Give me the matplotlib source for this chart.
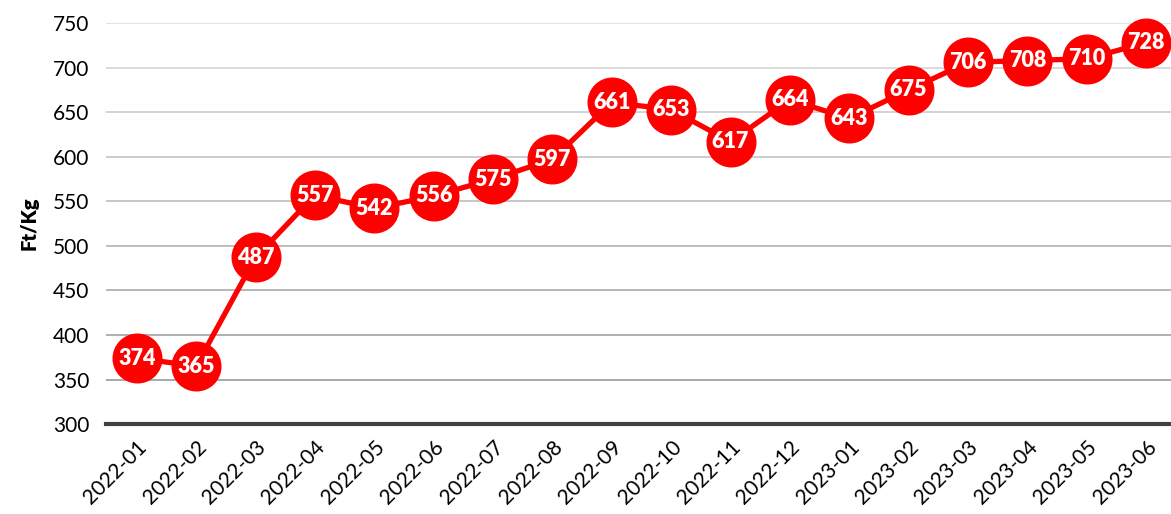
import numpy as np
import matplotlib.pyplot as plt

months = ['2022-01', '2022-02', '2022-03', '2022-04', '2022-05', '2022-06',
          '2022-07', '2022-08', '2022-09', '2022-10', '2022-11', '2022-12',
          '2023-01', '2023-02', '2023-03', '2023-04', '2023-05', '2023-06']
prices = [374, 365, 487, 557, 542, 556, 575, 597, 661, 653, 617, 664,
          643, 675, 706, 708, 710, 728]

plt.rcParams['font.family'] = ['Lato', 'DejaVu Sans']

fig = plt.figure(figsize=(11.71, 5.14), dpi=100)
ax = fig.add_axes([0.0905, 0.175, 0.9095, 0.78])

x = np.arange(len(months))

# gridlines, a bit darker toward the bottom
yticks = np.arange(300, 751, 50)
for yv in yticks[1:]:
    shade = 0.63 + 0.25 * (yv - 350) / 400.0
    ax.axhline(yv, color=(shade, shade, shade), linewidth=1.3, zorder=0)
ax.axhline(300, color='#404040', linewidth=3, zorder=1, clip_on=False)

ax.plot(x, prices, color='#ff0000', linewidth=3.8, marker='o',
        markersize=35, markerfacecolor='#ff0000', markeredgecolor='#ff0000',
        zorder=3, clip_on=False)

for xi, v in zip(x, prices):
    ax.text(xi, v, '%d' % v, ha='center', va='center', color='white',
            fontsize=15.5, fontweight='heavy', zorder=4)

ax.set_xlim(-0.52, len(months) - 0.58)
ax.set_ylim(300, 750)
ax.set_yticks(yticks)
ax.set_xticks(x)
ax.set_xticklabels(months, rotation=45, ha='right', rotation_mode='anchor')
ax.tick_params(axis='both', length=0, labelsize=15)
ax.tick_params(axis='y', pad=12)
ax.tick_params(axis='x', pad=9)
for sp in ax.spines.values():
    sp.set_visible(False)

ax.set_ylabel('Ft/Kg', fontsize=14.5, fontweight='heavy', labelpad=10)

fig.savefig('out.png', dpi=100)
